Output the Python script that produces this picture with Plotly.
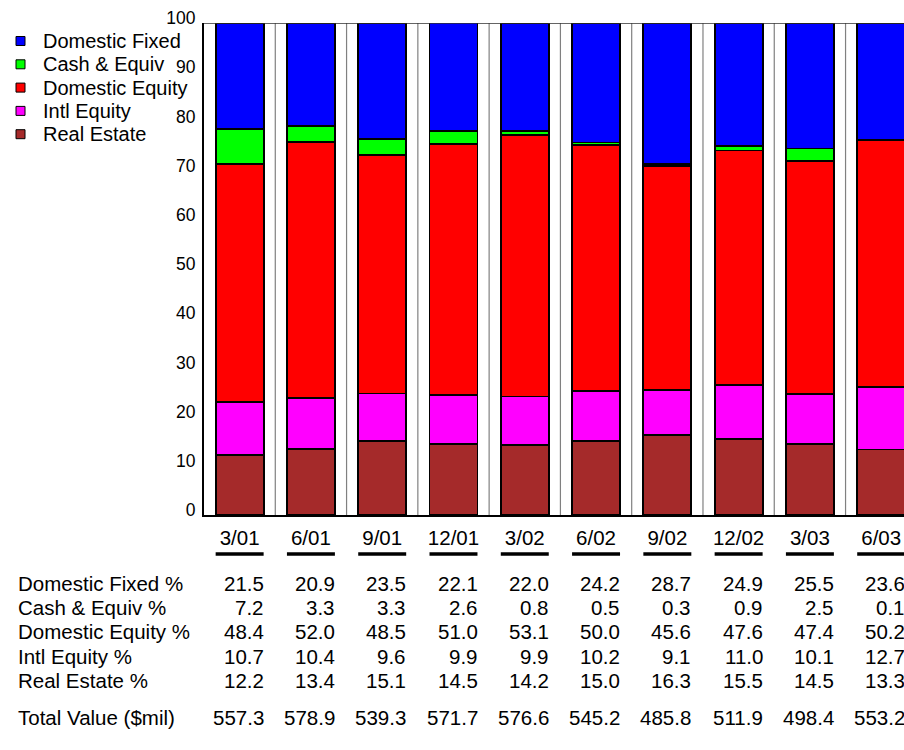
import plotly.graph_objects as go

periods = ["3/01", "6/01", "9/01", "12/01", "3/02", "6/02", "9/02", "12/02", "3/03", "6/03"]
domestic_fixed = [21.5, 20.9, 23.5, 22.1, 22.0, 24.2, 28.7, 24.9, 25.5, 23.6]
cash_equiv = [7.2, 3.3, 3.3, 2.6, 0.8, 0.5, 0.3, 0.9, 2.5, 0.1]
domestic_equity = [48.4, 52.0, 48.5, 51.0, 53.1, 50.0, 45.6, 47.6, 47.4, 50.2]
intl_equity = [10.7, 10.4, 9.6, 9.9, 9.9, 10.2, 9.1, 11.0, 10.1, 12.7]
real_estate = [12.2, 13.4, 15.1, 14.5, 14.2, 15.0, 16.3, 15.5, 14.5, 13.3]
total_value = [557.3, 578.9, 539.3, 571.7, 576.6, 545.2, 485.8, 511.9, 498.4, 553.2]
y_ticks = [0, 10, 20, 30, 40, 50, 60, 70, 80, 90, 100]

series = [
    ("Real Estate", real_estate, "#A52A2A"),
    ("Intl Equity", intl_equity, "#FF00FF"),
    ("Domestic Equity", domestic_equity, "#FF0000"),
    ("Cash & Equiv", cash_equiv, "#00FF00"),
    ("Domestic Fixed", domestic_fixed, "#0000FF"),
]

FONT = "Liberation Sans, Arial, sans-serif"
W, H = 904, 750
PLOT_TOP, PLOT_BOT, PLOT_LEFT = 23, 515, 204   # page pixels
ML, MT = PLOT_LEFT, PLOT_TOP
MB = H - PLOT_BOT
plot_h = PLOT_BOT - PLOT_TOP
plot_w = W - ML
x_range = [-0.5, 9.32]
pitch = plot_w / (x_range[1] - x_range[0])
bar_w = 0.673
x = list(range(len(periods)))


def py(p):
    return (PLOT_BOT - p) / plot_h


def px(p):
    return (p - PLOT_LEFT) / plot_w


fig = go.Figure()
for name, vals, col in series:
    fig.add_trace(go.Bar(
        x=x, y=vals, name=name, width=bar_w,
        marker=dict(color=col, line=dict(color="black", width=1.8)),
        showlegend=False, hoverinfo="skip",
    ))

shapes = []
annotations = []
# separators between bars
for i in range(len(periods) - 1):
    shapes.append(dict(type="line", xref="x", yref="y", x0=i + 0.5, x1=i + 0.5, y0=0, y1=100,
                       line=dict(color="#808080", width=1.2), layer="below"))
# top border
shapes.append(dict(type="line", xref="paper", yref="y", x0=0, x1=1, y0=100, y1=100,
                   line=dict(color="#303030", width=1.5)))
# underlines below category labels
for i in x:
    shapes.append(dict(type="line", xref="x", yref="paper", x0=i - bar_w / 2, x1=i + bar_w / 2,
                       y0=py(554), y1=py(554), line=dict(color="black", width=3.5)))

# legend (top to bottom)
LS = 20
for k, (name, vals, col) in enumerate(reversed(series)):
    cy = 41 + k * 23.3
    shapes.append(dict(type="rect", xref="paper", yref="paper",
                       x0=px(16), x1=px(25), y0=py(cy + 4.5), y1=py(cy - 4.5),
                       fillcolor=col, line=dict(color="black", width=1)))
    annotations.append(dict(xref="paper", yref="paper", x=px(41), y=py(cy), text=name,
                            showarrow=False, xanchor="left", yanchor="middle",
                            font=dict(family=FONT, size=LS, color="black")))

rows = [
    ("Domestic Fixed %", domestic_fixed, 583),
    ("Cash & Equiv %", cash_equiv, 607),
    ("Domestic Equity %", domestic_equity, 631),
    ("Intl Equity %", intl_equity, 656),
    ("Real Estate %", real_estate, 680),
    ("Total Value ($mil)", total_value, 717),
]
TS = 20.5
for label, vals, ypix in rows:
    annotations.append(dict(xref="paper", yref="paper", x=px(16), y=py(ypix),
                            text=label, showarrow=False, xanchor="left", yanchor="middle",
                            font=dict(family=FONT, size=TS, color="black")))
    for i, v in enumerate(vals):
        annotations.append(dict(xref="x", yref="paper", x=i, xshift=(bar_w / 2 + 0.03) * pitch,
                                y=py(ypix), text=f"{v:.1f}", showarrow=False,
                                xanchor="right", yanchor="middle",
                                font=dict(family=FONT, size=TS, color="black")))

fig.update_layout(
    width=W, height=H,
    margin=dict(l=ML, r=0, t=MT, b=MB),
    paper_bgcolor="white", plot_bgcolor="white",
    barmode="stack", bargap=0,
    font=dict(family=FONT, color="black"),
    showlegend=False,
    xaxis=dict(range=x_range, tickvals=x, ticktext=periods, showgrid=False, zeroline=False,
               showline=True, linecolor="black", linewidth=2, ticks="",
               ticklabelstandoff=3,
               tickfont=dict(family=FONT, size=20.5, color="black"), fixedrange=True),
    yaxis=dict(range=[0, 100], tickvals=y_ticks, showgrid=False, zeroline=False,
               showline=True, linecolor="black", linewidth=2, ticks="",
               ticklabelstandoff=3,
               tickfont=dict(family=FONT, size=17.5, color="black"), ticklabelshift=-5,
               fixedrange=True),
    shapes=shapes, annotations=annotations,
)

fig.write_html("out.html", config={"displayModeBar": False, "staticPlot": True},
               post_script="document.body.style.margin='0px';document.body.style.overflow='hidden';")
